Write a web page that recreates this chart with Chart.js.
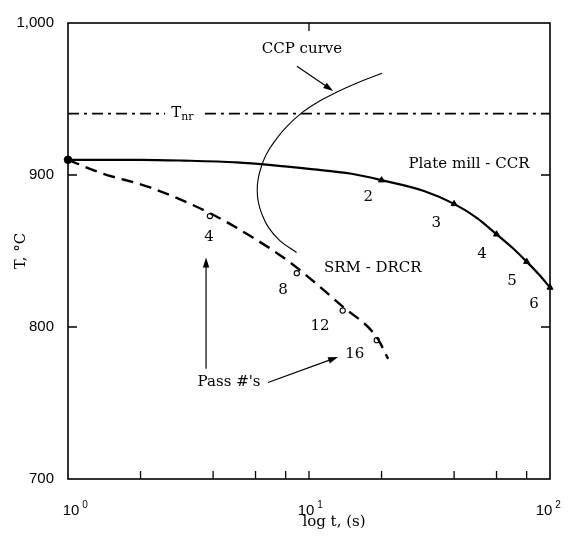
<!DOCTYPE html>
<html><head><meta charset="utf-8">
<script src="https://cdn.jsdelivr.net/npm/chart.js@4.4.0/dist/chart.umd.min.js"></script>
<style>html,body{margin:0;padding:0;background:#fff}canvas{display:block}</style>
</head><body>
<canvas id="c" width="574" height="539"></canvas>
<script>
// ---- data ----
const plateT = [1, 2, 3, 5, 7, 10, 15, 20, 30, 40, 50, 60, 70, 80, 90, 100];
const plateTemp = [910, 910, 909.5, 908.3, 906.5, 904, 900.8, 896.6, 889.5, 881, 871.5, 861, 852, 843, 834.5, 826];
const platePassT = [20, 40, 60, 80, 100];
const platePassTemp = [896.6, 881, 861, 843, 826];
const platePassLabels = ['2', '3', '4', '5', '6'];
const srmT = [1, 1.36, 2.19, 3.88, 5.69, 8.34, 13.8, 19.1, 21.3];
const srmTemp = [910, 901.5, 891.8, 874.9, 860, 842.5, 813.4, 793.3, 779];
const srmPassT = [3.88, 8.9, 13.8, 19.1];
const srmPassTemp = [873, 835.4, 810.8, 791.3];
const srmPassLabels = ['4', '8', '12', '16'];
const ccpT = [20.09, 15.82, 13.07, 11.11, 9.354, 8.03, 7.16, 6.63, 6.34, 6.155, 6.097, 6.166, 6.4, 6.81, 7.565, 8.88];
const ccpTemp = [966.9, 960.5, 954.6, 948.8, 941, 931.3, 921.6, 913.2, 905.4, 897.6, 889.8, 882, 873.6, 865.2, 856.8, 849];
const tnrTemp = 940.4;
const tnrLeftT = [1, 2.53];
const tnrRightT = [3.7, 100];
const startT = [1];
const startTemp = [910];
const yTicks = [700, 800, 900, 1000];
const yTickLabels = ['700', '800', '900', '1,000'];
const xMajorTicks = [1, 10, 100];
const xTickExps = ['0', '1', '2'];
const xMinorTicks = [2, 4, 6, 8, 10, 20, 40, 60, 80];

const toXY = (xs, ys) => xs.map((x, i) => ({x, y: ys[i]}));
const SERIF = '"DejaVu Serif", serif';

// annotation placement (data units)
const texts = [
  {s: 'CCP curve', t: 9.35, v: 982.5},
  {s: 'Plate mill - CCR', t: 46.1, v: 907.3},
  {s: 'SRM - DRCR', t: 18.4, v: 838.7},
  {s: "Pass #'s", t: 4.66, v: 763.5}
];
const plateLabelPos = [[17.6, 885.3], [33.7, 868.5], [52.2, 847.7], [69.5, 830.2], [85.8, 815.3]];
const srmLabelPos = [[3.85, 859.4], [7.8, 824.4], [11.1, 800.4], [15.5, 782.3]];
const arrows = [
  [[8.91, 971.5], [12.6, 955.3]],
  [[3.74, 772.6], [3.74, 845.8]],
  [[6.76, 763.5], [13.2, 780.3]]
];
const xLabelShift = [3, -3, -6];

function arrow(ctx, x1, y1, x2, y2) {
  const ang = Math.atan2(y2 - y1, x2 - x1), L = 10, W = 3.2;
  ctx.beginPath(); ctx.moveTo(x1, y1);
  ctx.lineTo(x2 - L * 0.7 * Math.cos(ang), y2 - L * 0.7 * Math.sin(ang)); ctx.stroke();
  ctx.beginPath(); ctx.moveTo(x2, y2);
  ctx.lineTo(x2 - L * Math.cos(ang) - W * Math.sin(ang), y2 - L * Math.sin(ang) + W * Math.cos(ang));
  ctx.lineTo(x2 - L * Math.cos(ang) + W * Math.sin(ang), y2 - L * Math.sin(ang) - W * Math.cos(ang));
  ctx.closePath(); ctx.fill();
}

const deco = {
  id: 'deco',
  afterDraw(chart) {
    const {ctx, chartArea: a, scales: {x, y}} = chart;
    const X = v => x.getPixelForValue(v), Y = v => y.getPixelForValue(v);
    ctx.save();
    ctx.strokeStyle = '#000'; ctx.fillStyle = '#000';
    ctx.lineWidth = 1.6;
    ctx.strokeRect(a.left, a.top, a.right - a.left, a.bottom - a.top);
    ctx.lineWidth = 1.3;
    ctx.beginPath();
    xMinorTicks.forEach(t => { ctx.moveTo(X(t), a.bottom); ctx.lineTo(X(t), a.bottom - 8); });
    ctx.moveTo(X(10), a.top); ctx.lineTo(X(10), a.top + 8);
    [800, 900].forEach(v => {
      ctx.moveTo(a.left, Y(v)); ctx.lineTo(a.left + 9, Y(v));
      ctx.moveTo(a.right, Y(v)); ctx.lineTo(a.right - 9, Y(v));
    });
    ctx.stroke();
    // x tick labels 10^n
    ctx.textBaseline = 'alphabetic';
    xMajorTicks.forEach((t, i) => {
      const px = X(t) + xLabelShift[i];
      ctx.font = '15px "Liberation Sans", Arial, sans-serif';
      ctx.textAlign = 'center';
      ctx.fillText('10', px, 515);
      const w = ctx.measureText('10').width;
      ctx.font = '10px "Liberation Sans", Arial, sans-serif';
      ctx.textAlign = 'left';
      ctx.fillText(xTickExps[i], px + w / 2 + 3, 508);
    });
    // axis titles
    ctx.font = '15px ' + SERIF;
    ctx.textAlign = 'center'; ctx.textBaseline = 'middle';
    ctx.fillText('log t, (s)', 334, 522);
    ctx.save();
    ctx.translate(21, (a.top + a.bottom) / 2);
    ctx.rotate(-Math.PI / 2);
    ctx.fillText('T, °C', 0, 0);
    ctx.restore();
    // annotations
    texts.forEach(o => ctx.fillText(o.s, X(o.t), Y(o.v)));
    platePassLabels.forEach((s, i) => ctx.fillText(s, X(plateLabelPos[i][0]), Y(plateLabelPos[i][1])));
    srmPassLabels.forEach((s, i) => ctx.fillText(s, X(srmLabelPos[i][0]), Y(srmLabelPos[i][1])));
    // T_nr
    ctx.textAlign = 'left';
    const tx = X(2.68), ty = Y(tnrTemp);
    ctx.font = '15px ' + SERIF;
    ctx.fillText('T', tx, ty);
    const tw = ctx.measureText('T').width;
    ctx.font = '11px ' + SERIF;
    ctx.fillText('nr', tx + tw, ty + 4);
    // arrows
    ctx.lineWidth = 1.2;
    arrows.forEach(([p, q]) => arrow(ctx, X(p[0]), Y(p[1]), X(q[0]), Y(q[1])));
    ctx.restore();
  }
};

new Chart(document.getElementById('c'), {
  type: 'scatter',
  data: {
    datasets: [
      {data: toXY(plateT, plateTemp), showLine: true, borderColor: '#000', borderWidth: 2.2,
       pointRadius: 0, cubicInterpolationMode: 'monotone', clip: false},
      {data: toXY(srmT, srmTemp), showLine: true, borderColor: '#000', borderWidth: 2.4,
       borderDash: [12, 7], pointRadius: 0, cubicInterpolationMode: 'monotone', clip: false},
      {data: toXY(ccpT, ccpTemp), showLine: true, borderColor: '#000', borderWidth: 1.1,
       pointRadius: 0, tension: 0.4},
      {data: toXY(tnrLeftT, tnrLeftT.map(() => tnrTemp)), showLine: true, borderColor: '#000',
       borderWidth: 1.6, borderDash: [11, 5, 3, 5], pointRadius: 0},
      {data: toXY(tnrRightT, tnrRightT.map(() => tnrTemp)), showLine: true, borderColor: '#000',
       borderWidth: 1.6, borderDash: [11, 5, 3, 5], pointRadius: 0},
      {data: toXY(platePassT, platePassTemp), pointStyle: 'triangle', pointRadius: 3.5,
       backgroundColor: '#000', borderColor: '#000', borderWidth: 1, clip: false},
      {data: toXY(srmPassT, srmPassTemp), pointStyle: 'circle', pointRadius: 2.6,
       backgroundColor: '#fff', borderColor: '#000', borderWidth: 1.1, clip: false},
      {data: toXY(startT, startTemp), pointStyle: 'circle', pointRadius: 3.8,
       backgroundColor: '#000', borderColor: '#000', clip: false}
    ]
  },
  options: {
    responsive: false, animation: false, devicePixelRatio: 1,
    layout: {padding: {top: 16, right: 24, left: 0, bottom: 0}},
    plugins: {legend: {display: false}, tooltip: {enabled: false}},
    scales: {
      x: {type: 'logarithmic', min: 1, max: 100,
          ticks: {display: false}, grid: {display: false, drawTicks: false}, border: {display: false},
          afterFit: s => { s.height = 60; }},
      y: {type: 'linear', min: 700, max: 1000,
          afterBuildTicks: s => { s.ticks = yTicks.map(v => ({value: v})); },
          ticks: {color: '#000', padding: 14, font: {family: '"Liberation Sans", Arial, sans-serif', size: 15},
                  callback: v => yTickLabels[yTicks.indexOf(v)]},
          grid: {display: false, drawTicks: false}, border: {display: false},
          afterFit: s => { s.width = 68; }}
    }
  },
  plugins: [deco]
});
</script>
</body></html>
